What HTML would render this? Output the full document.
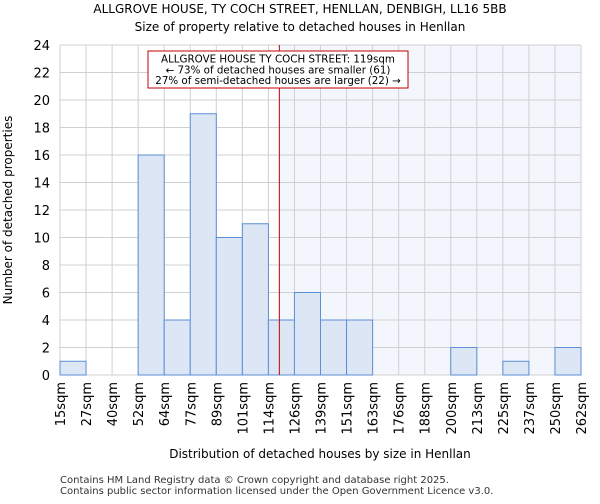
<!DOCTYPE html>
<html><head><meta charset="utf-8"><style>
body{margin:0;background:#fff;font-family:"DejaVu Sans","Liberation Sans",sans-serif}
</style></head><body>
<svg width="600" height="500" font-family="DejaVu Sans, Liberation Sans, sans-serif">
<text x="300" y="13" text-anchor="middle" font-size="12">ALLGROVE HOUSE, TY COCH STREET, HENLLAN, DENBIGH, LL16 5BB</text>
<text x="300" y="31" text-anchor="middle" font-size="12">Size of property relative to detached houses in Henllan</text>
<g id="plot"></g>
<text transform="translate(12,210) rotate(-90)" text-anchor="middle" font-size="12">Number of detached properties</text>
<text x="320" y="458" text-anchor="middle" font-size="12">Distribution of detached houses by size in Henllan</text>
<text x="60" y="483" font-size="10" fill="#333">Contains HM Land Registry data © Crown copyright and database right 2025.</text>
<text x="60" y="494" font-size="10" fill="#333">Contains public sector information licensed under the Open Government Licence v3.0.</text>
</svg>
<script>
const binLabels=["15sqm","27sqm","40sqm","52sqm","64sqm","77sqm","89sqm","101sqm","114sqm","126sqm","139sqm","151sqm","163sqm","176sqm","188sqm","200sqm","213sqm","225sqm","237sqm","250sqm","262sqm"];
const counts=[1,0,0,16,4,19,10,11,4,6,4,4,0,0,0,2,0,1,0,2];
const yTicks=[0,2,4,6,8,10,12,14,16,18,20,22,24];
const markerIndex=8.42;
const NS="http://www.w3.org/2000/svg";
const L=60,R=581,T=45,B=375,yMax=24;
const bw=(R-L)/counts.length;
const xs=i=>L+i*bw;
const ys=v=>B-(v/yMax)*(B-T);
const g=document.getElementById('plot');
function mk(t,a){const e=document.createElementNS(NS,t);for(const k in a)e.setAttribute(k,a[k]);g.appendChild(e);return e;}
const mx=xs(markerIndex);
let e=mk('rect',{x:mx,y:T,width:R-mx,height:B-T,fill:'#f4f6fd'});


for(let i=0;i<=counts.length;i++){e=mk('line',{x1:xs(i),x2:xs(i),y1:T,y2:B,stroke:'#d0d0d0'});

}
yTicks.forEach(v=>{e=mk('line',{x1:L,x2:R,y1:ys(v),y2:ys(v),stroke:'#d0d0d0'});


e=mk('text',{x:L-10,y:ys(v)+5,'text-anchor':'end','font-size':13});e.textContent=v;

});
counts.forEach((c,i)=>{if(c<=0)return;e=mk('rect',{x:xs(i),y:ys(c),width:bw,height:B-ys(c),fill:'#dce6f4',stroke:'#5b8fd6','stroke-width':1});

});
binLabels.forEach((l,i)=>{e=mk('text',{transform:`translate(${xs(i)+5},382) rotate(-90)`,'text-anchor':'end','font-size':13});e.textContent=l;

});
e=mk('line',{x1:mx,x2:mx,y1:T,y2:B,stroke:'#c00000','stroke-width':1});


e=mk('rect',{x:148,y:51,width:260,height:37,fill:'#fff',stroke:'#c00000','stroke-width':1});


["ALLGROVE HOUSE TY COCH STREET: 119sqm","← 73% of detached houses are smaller (61)","27% of semi-detached houses are larger (22) →"].forEach((t,i)=>{e=mk('text',{x:278,y:62.5+i*10.8,'text-anchor':'middle','font-size':10.3});e.textContent=t;

});
</script>
</body></html>
